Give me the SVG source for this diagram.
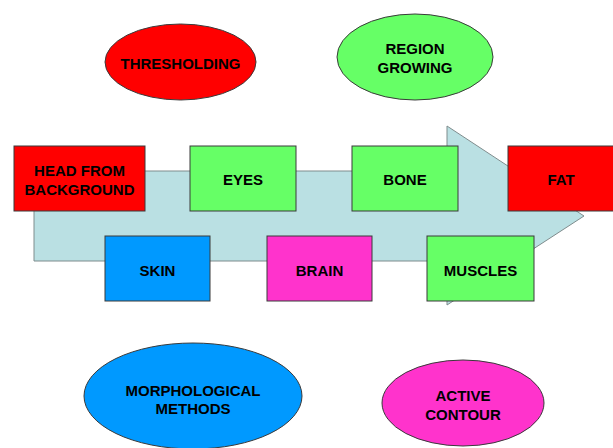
<svg xmlns="http://www.w3.org/2000/svg" width="613" height="448" viewBox="0 0 613 448">
<style>
.box{stroke:#3a3a3a;stroke-width:1}
.ell{stroke:#3a3a3a;stroke-width:1}
.red{fill:#FF0000}
.green{fill:#66FF66}
.blue{fill:#0099FF}
.pink{fill:#FF33CC}
text{font-family:"Liberation Sans",Arial,sans-serif;font-size:15px;font-weight:bold;fill:#000;text-anchor:middle;dominant-baseline:central}
</style>
<rect width="613" height="448" fill="#ffffff"/>
<g id="connectors">
<path d="M34,171 H447 V126 L584,216 L447,305 V261 H34 Z" fill="#BAE0E3" stroke="#7f8c8d" stroke-width="1"/>
</g>
<g id="thresholding"><ellipse class="ell red" cx="180.5" cy="62" rx="75.5" ry="38"/><text x="180.5" y="63">THRESHOLDING</text></g>
<g id="region-growing"><ellipse class="ell green" cx="415" cy="57" rx="78" ry="43"/><text x="415" y="48">REGION</text><text x="415" y="67">GROWING</text></g>
<g id="head"><rect class="box red" x="14" y="146" width="131" height="65"/><text x="79.5" y="170">HEAD FROM</text><text x="79.5" y="189">BACKGROUND</text></g>
<g id="eyes"><rect class="box green" x="190" y="146" width="106" height="65"/><text x="243" y="179">EYES</text></g>
<g id="bone"><rect class="box green" x="352" y="146" width="106" height="65"/><text x="405" y="179">BONE</text></g>
<g id="fat"><rect class="box red" x="508" y="146" width="106" height="65"/><text x="561" y="179">FAT</text></g>
<g id="skin"><rect class="box blue" x="105" y="236" width="105" height="65"/><text x="157.5" y="270">SKIN</text></g>
<g id="brain"><rect class="box pink" x="267" y="236" width="105" height="65"/><text x="319.5" y="270">BRAIN</text></g>
<g id="muscles"><rect class="box green" x="427" y="236" width="107" height="65"/><text x="480.5" y="270">MUSCLES</text></g>
<g id="morphological"><ellipse class="ell blue" cx="193" cy="396" rx="109" ry="53"/><text x="193" y="390">MORPHOLOGICAL</text><text x="193" y="408">METHODS</text></g>
<g id="active-contour"><ellipse class="ell pink" cx="463" cy="403" rx="81" ry="43"/><text x="463" y="395">ACTIVE</text><text x="463" y="414">CONTOUR</text></g>
</svg>
